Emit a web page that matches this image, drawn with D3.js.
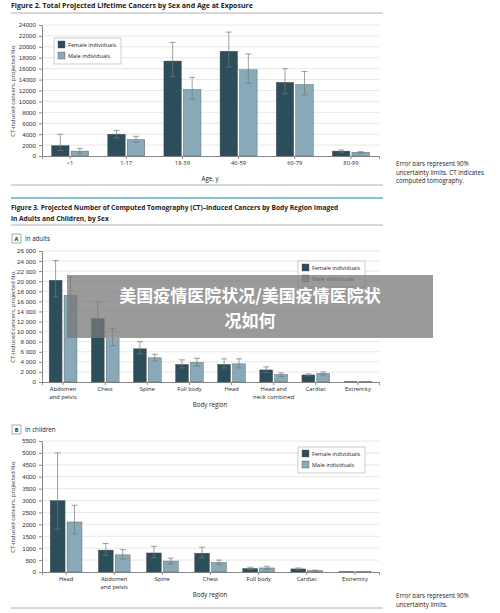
<!DOCTYPE html>
<html><head><meta charset="utf-8">
<script src="https://cdn.jsdelivr.net/npm/d3@7"></script>
<style>body{margin:0;background:#fff;font-family:"Open Sans",sans-serif}</style>
</head><body><div id="chart"></div>
<script>
// figure 2 data
var ageCats = ["<1", "1-17", "18-39", "40-59", "60-79", "80-99"];
var ageFemale = [1900, 4000, 17400, 19200, 13500, 900];
var ageMale = [900, 3000, 12200, 15800, 13100, 700];
var ageFemaleErr = [[1000, 4000], [3300, 4700], [14600, 20800], [16300, 22700], [11400, 16000], [700, 1100]];
var ageMaleErr = [[500, 1400], [2600, 3600], [10400, 14400], [13300, 18700], [11200, 15500], [500, 800]];
var ageTicks = d3.range(0, 24001, 2000);

// figure 3A data
var adultCats = ["Abdomen|and pelvis", "Chest", "Spine", "Full body", "Head", "Head and|neck combined", "Cardiac", "Extremity"];
var adultFemale = [20200, 12600, 6600, 3500, 3500, 2400, 1400, 60];
var adultMale = [17200, 8600, 4800, 3900, 3600, 1500, 1700, 60];
var adultFemaleErr = [[16900, 24100], [10100, 15900], [5600, 8000], [2800, 4400], [2800, 4600], [1900, 3000], [1200, 1600], null];
var adultMaleErr = [[14300, 20800], [7200, 10600], [4200, 5500], [3200, 4700], [2800, 4600], [1100, 1800], [1400, 2000], null];
var adultTicks = d3.range(0, 26001, 2000);

// figure 3B data
var childCats = ["Head", "Abdomen|and pelvis", "Spine", "Chest", "Full body", "Cardiac", "Extremity"];
var childFemale = [3000, 920, 800, 790, 150, 130, 15];
var childMale = [2100, 720, 460, 400, 170, 60, 15];
var childFemaleErr = [[1800, 5000], [700, 1200], [600, 1080], [600, 1040], [100, 200], [100, 170], null];
var childMaleErr = [[1600, 2800], [550, 940], [340, 580], [320, 500], [110, 240], [30, 80], null];
var childTicks = d3.range(0, 5501, 500);

var cF = "#2b4e5a", cM = "#87a9b8";
var svg = d3.select("#chart").append("svg").attr("width", 500).attr("height", 613);

function hline(y, color, w) {
    svg.append("line").attr("x1", 11).attr("x2", 383).attr("y1", y).attr("y2", y)
        .attr("stroke", color).attr("stroke-width", w);
}
function txt(x, y, s, size, weight, anchor) {
    return svg.append("text").attr("x", x).attr("y", y).attr("font-size", size)
        .attr("font-weight", weight || "normal").attr("text-anchor", anchor || "start")
        .attr("fill", "#222").text(s);
}

function drawChart(opt) {
    var x = d3.scaleBand().domain(opt.cats).range([42, 379]).paddingInner(0.34).paddingOuter(0.17);
    var y = d3.scaleLinear().domain([0, d3.max(opt.ticks)]).range([opt.y0, opt.y1]);
    var g = svg.append("g");
    g.selectAll("line.grid").data(opt.ticks.slice(1)).enter().append("line")
        .attr("x1", 42).attr("x2", 379).attr("y1", d => y(d)).attr("y2", d => y(d))
        .attr("stroke", "#e2e2e2").attr("stroke-width", 0.8);
    var ya = g.append("g").attr("transform", "translate(42,0)")
        .call(d3.axisLeft(y).tickValues(opt.ticks).tickSize(3).tickFormat(opt.fmt || d3.format("d")));
    ya.selectAll("text").attr("font-size", 6.2).attr("fill", "#333");
    ya.selectAll("line,path").attr("stroke", "#888");
    var xa = g.append("g").attr("transform", "translate(0," + opt.y0 + ")")
        .call(d3.axisBottom(x).tickSize(3).tickFormat(""));
    xa.selectAll("line,path").attr("stroke", "#888");
    opt.cats.forEach(function (c) {
        c.split("|").forEach(function (p, i) {
            txt(x(c) + x.bandwidth() / 2, opt.y0 + 9 + i * 7.5, p, 5.8, "normal", "middle");
        });
    });
    var bw = x.bandwidth() / 2 - 1;
    [[opt.f, opt.fe, cF, 0], [opt.m, opt.me, cM, 1]].forEach(function (s) {
        opt.cats.forEach(function (c, i) {
            var bx = x(c) + s[3] * (bw + 2);
            g.append("rect").attr("x", bx).attr("y", y(s[0][i])).attr("width", bw)
                .attr("height", opt.y0 - y(s[0][i])).attr("fill", s[2])
                .attr("stroke", "#555").attr("stroke-width", 0.4);
            var e = s[1][i];
            if (e) {
                var cx = bx + bw / 2;
                g.append("path").attr("d", "M" + (cx - 3) + "," + y(e[0]) + "h6M" + cx + "," + y(e[0]) +
                    "V" + y(e[1]) + "M" + (cx - 3) + "," + y(e[1]) + "h6")
                    .attr("stroke", "#777").attr("stroke-width", 0.7).attr("fill", "none");
            }
        });
    });
    // legend
    var L = opt.legend;
    g.append("rect").attr("x", L[0]).attr("y", L[1]).attr("width", 67).attr("height", 26)
        .attr("fill", "#fff").attr("stroke", "#aaa").attr("stroke-width", 0.6);
    [["Female individuals", cF], ["Male individuals", cM]].forEach(function (d, i) {
        g.append("rect").attr("x", L[0] + 4).attr("y", L[1] + 3 + i * 11).attr("width", 7).attr("height", 7)
            .attr("fill", d[1]).attr("stroke", "#555").attr("stroke-width", 0.4);
        txt(L[0] + 14, L[1] + 9 + i * 11, d[0], 5.6);
    });
    svg.append("text").attr("transform", "translate(15," + ((opt.y0 + opt.y1) / 2) + ") rotate(-90)")
        .attr("text-anchor", "middle").attr("font-size", 5.8).attr("fill", "#333")
        .text("CT-induced cancers, projected No.");
    txt(210, opt.y0 + 25, opt.xlabel, 6.2, "normal", "middle");
}

// figure 2
txt(11, 8, "Figure 2. Total Projected Lifetime Cancers by Sex and Age at Exposure", 7, "bold");
hline(13, "#999", 0.8);
drawChart({cats: ageCats, f: ageFemale, m: ageMale, fe: ageFemaleErr, me: ageMaleErr, ticks: ageTicks,
    y0: 156, y1: 25, legend: [54, 38], xlabel: "Age, y"});
hline(185, "#999", 0.8);
["Error bars represent 90%", "uncertainty limits. CT indicates", "computed tomography."].forEach(function (s, i) {
    txt(396, 166 + i * 8.5, s, 6.2);
});

// figure 3
hline(198, "#5aaecb", 1.5);
txt(11, 210, "Figure 3. Projected Number of Computed Tomography (CT)–Induced Cancers by Body Region Imaged", 6.6, "bold");
txt(11, 221, "in Adults and Children, by Sex", 6.6, "bold");
hline(225, "#999", 0.8);
function panel(y, letter, label) {
    svg.append("rect").attr("x", 12).attr("y", y - 7).attr("width", 9).attr("height", 9)
        .attr("fill", "#fff").attr("stroke", "#777").attr("stroke-width", 0.6);
    txt(16.5, y, letter, 5.5, "bold", "middle");
    txt(25, y, label, 6.2);
}
panel(241, "A", "In adults");
drawChart({cats: adultCats, f: adultFemale, m: adultMale, fe: adultFemaleErr, me: adultMaleErr, ticks: adultTicks,
    y0: 382, y1: 251, legend: [298, 261], xlabel: "Body region", fmt: d => d3.format(",")(d).replace(",", " ")});
panel(432, "B", "In children");
drawChart({cats: childCats, f: childFemale, m: childMale, fe: childFemaleErr, me: childMaleErr, ticks: childTicks,
    y0: 572, y1: 441, legend: [298, 447], xlabel: "Body region"});
["Error bars represent 90%", "uncertainty limits."].forEach(function (s, i) {
    txt(396, 598 + i * 8.5, s, 6.2);
});
hline(608, "#999", 0.8);

// overlay banner
svg.append("rect").attr("x", 67).attr("y", 275).attr("width", 366).attr("height", 63).attr("fill", "rgba(120,120,120,0.75)");
svg.append("text").attr("x", 250).attr("y", 302).attr("text-anchor", "middle").attr("font-size", 17)
    .attr("font-weight", "bold").attr("fill", "#fff").attr("font-family", "Noto Sans CJK SC").text("美国疫情医院状况/美国疫情医院状");
svg.append("text").attr("x", 250).attr("y", 327).attr("text-anchor", "middle").attr("font-size", 17)
    .attr("font-weight", "bold").attr("fill", "#fff").attr("font-family", "Noto Sans CJK SC").text("况如何");
</script></body></html>
